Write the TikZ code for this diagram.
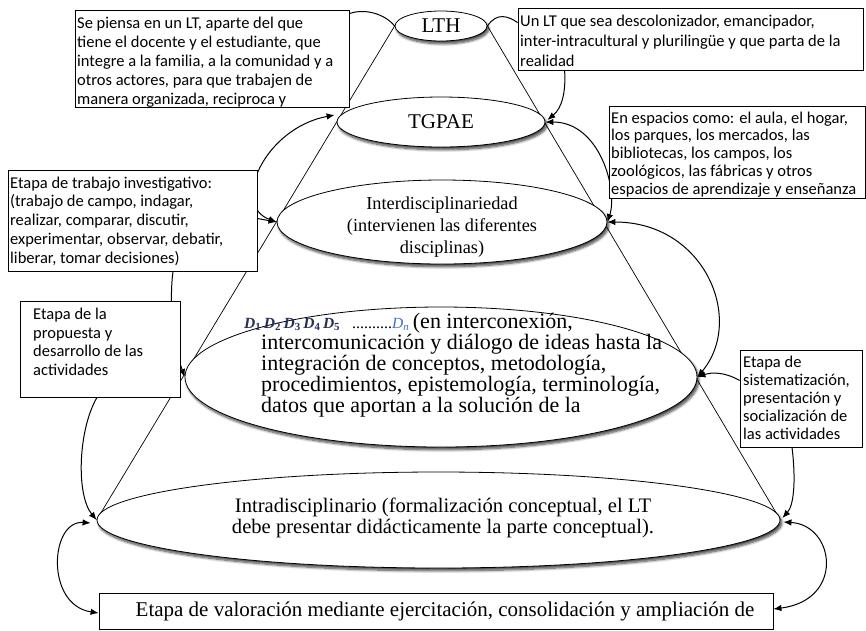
\documentclass[tikz,border=0pt]{standalone}
\usepackage{fontspec}
\setmainfont{Liberation Serif}
\newfontfamily\calfont{Carlito}
\usetikzlibrary{shapes.geometric,arrows.meta,shadows.blur,backgrounds}
\definecolor{dblue}{RGB}{36,48,86}
\definecolor{nblue}{RGB}{70,110,190}
\newcommand\Dk[1]{\textbf{\textit{D}}\textsubscript{\textbf{#1}}}
\newcommand\tightlines{\lineskiplimit=-50pt\relax}
\begin{document}
\begin{tikzpicture}[x=1pt,y=1pt,
  elli/.style={ellipse, draw=black, line width=0.8pt, fill=white, inner sep=0pt,
    blur shadow={shadow xshift=1.8pt, shadow yshift=-2.8pt, shadow blur radius=2.5pt, shadow blur steps=8, shadow opacity=75}},
  box/.style={draw=black, line width=0.8pt, fill=white, inner sep=0pt},
  btext/.style={inner sep=0pt, anchor=north west, align=left},
  ttext/.style={inner sep=0pt, align=center},
  conn/.style={line width=1pt},
  >={Latex[length=8pt,width=6.5pt]},
  arr/.style={conn,->},
  darr/.style={conn,<->},
  cone/.style={line width=0.7pt}
]
\useasboundingbox (0,0) rectangle (866,-630);

% ellipses
\node[elli, minimum width=92, minimum height=30] (lth) at (441,-26) {};
\node[elli, minimum width=208, minimum height=50] (tg) at (441,-122) {};
\node[elli, minimum width=330, minimum height=84] (inter) at (442,-222) {};
\node[elli, minimum width=512, minimum height=140] (dd) at (441,-377) {};
\node[elli, minimum width=683, minimum height=96] (intra) at (438.5,-520) {};

% ellipse texts
\node[ttext, font=\fontsize{21}{24}\selectfont] (lthT) at (441,-26) {LTH};
\node[ttext, font=\fontsize{21}{24}\selectfont] (tgT) at (441,-122) {TGPAE};
\node[ttext, font=\fontsize{18.3}{22}\selectfont] (interT) at (442,-227) {Interdisciplinariedad\\(intervienen las diferentes\\disciplinas)};
\node[inner sep=0pt, anchor=base west, font=\fontsize{22}{21}\selectfont] (dl1) at (244,-328)
  {{\fontsize{15.5}{16}\selectfont\color{dblue}\Dk1\,\Dk2\,\Dk3\,\Dk4\,\Dk5}\hspace{12pt}{\fontsize{16}{16}\selectfont ..........}{\fontsize{15.5}{16}\selectfont\color{nblue}\textit{D}\textsubscript{\textit{n}}}\,(en interconexión,};
\node[btext, font={\fontsize{22}{21}\selectfont\tightlines}] (dtext) at (261,-334.3)
  {intercomunicación y diálogo de ideas hasta la\\integración de conceptos, metodología,\\procedimientos, epistemología, terminología,\\datos que aportan a la solución de la};
\node[ttext, font=\fontsize{20.6}{21}\selectfont] (intraT) at (443,-518) {Intradisciplinario (formalización conceptual, el LT\\debe presentar didácticamente la parte conceptual).};

% boxes
\node[box, minimum width=274, minimum height=97] (b1) at (212,-58.5) {};
\node[box, minimum width=345, minimum height=62] (b2) at (690.5,-39) {};
\node[box, minimum width=256, minimum height=92] (b3) at (737,-152) {};
\node[box, minimum width=249, minimum height=101] (b4) at (132.5,-220.5) {};
\node[box, minimum width=160, minimum height=96] (b5) at (100,-349) {};
\node[box, minimum width=122, minimum height=97] (b6) at (801,-398.5) {};
\node[box, minimum width=674, minimum height=36] (b7) at (436,-611) {};

% box texts
\node[btext, font=\calfont\fontsize{16.5}{19}\selectfont] (t1) at (77,-17)
  {Se piensa en un LT, aparte del que\\tiene el docente y el estudiante, que\\integre a la familia, a la comunidad y a\\otros actores, para que trabajen de\\manera organizada, reciproca y};
\node[btext, font=\calfont\fontsize{16.5}{20}\selectfont] (t2) at (520,-14.5)
  {Un LT que sea descolonizador, emancipador,\\inter-intracultural y plurilingüe y que parta de la\\realidad};
\node[btext, font=\calfont\fontsize{16.5}{17.8}\selectfont] (t3) at (611,-111.5)
  {En espacios como: el aula, el hogar,\\los parques, los mercados, las\\bibliotecas, los campos, los\\zoológicos, las fábricas y otros\\espacios de aprendizaje y enseñanza};
\node[btext, font=\calfont\fontsize{16.5}{18.8}\selectfont] (t4) at (10,-176.5)
  {Etapa de trabajo investigativo:\\(trabajo de campo, indagar,\\realizar, comparar, discutir,\\experimentar, observar, debatir,\\liberar, tomar decisiones)};
\node[btext, font=\calfont\fontsize{16.5}{18.5}\selectfont] (t5) at (33,-308)
  {Etapa de la\\propuesta y\\desarrollo de las\\actividades};
\node[btext, font=\calfont\fontsize{16.5}{18}\selectfont] (t6) at (743,-356)
  {Etapa de\\sistematización,\\presentación y\\socialización de\\las actividades};
\node[ttext, font=\fontsize{21}{24}\selectfont] (t7) at (445,-611)
  {Etapa de valoración mediante ejercitación, consolidación y ampliación de};

\begin{scope}[on background layer]
% cone
\draw[cone] (lth.west) -- (intra.west);
\draw[cone] (lth.east) -- (intra.east);
% top links
\draw[conn] ([yshift=-4pt]b1.north east) .. controls (365,-8) and (385,-14) .. (lth.west);
\draw[conn] (lth.east) .. controls (497,-12) and (508,-16) .. ([yshift=-15pt]b2.north west);
\draw[arr] ([xshift=47pt]b2.south west) .. controls (566,-92) and (562,-108) .. ([shift={(2,2)}]tg.east);
% right side
\draw[darr] (tg.east) .. controls (600,-122) and (618,-190) .. (inter.east);
\draw[darr] (inter.east) .. controls (705,-222) and (745,-320) .. (dd.east);
\draw[arr] ([yshift=18pt]b6.west) .. controls (725,-372) and (712,-372) .. (dd.east);
\draw[arr] ([xshift=-9pt]b6.south) .. controls (796,-480) and (794,-505) .. ([shift={(2,2)}]intra.east);
\draw[darr] ([shift={(3,-2)}]intra.east) .. controls (835,-525) and (845,-600) .. ([yshift=2pt]b7.east);
% left side
\draw[arr] ([yshift=2pt]b4.east) -- (inter.west);
\draw[darr] ([shift={(-2,7)}]tg.west) .. controls (265,-128) and (230,-205) .. (inter.west);
\draw[arr] ([xshift=40.5pt]b4.south) .. controls (168,-310) and (176,-352) .. (dd.west);
\draw[arr] ([xshift=-3pt]b5.south) .. controls (78,-430) and (76,-495) .. (intra.west);
\draw[darr] ([shift={(-6,-3)}]intra.west) .. controls (50,-520) and (45,-605) .. ([yshift=-2pt]b7.west);
\end{scope}
\end{tikzpicture}
\end{document}
